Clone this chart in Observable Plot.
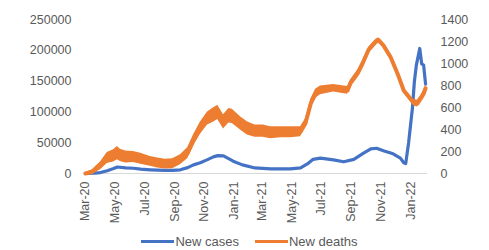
<!DOCTYPE html>
<html><head><meta charset="utf-8">
<script src="https://cdn.jsdelivr.net/npm/d3@7"></script>
<script src="https://cdn.jsdelivr.net/npm/@observablehq/plot@0.6"></script>
<style>
body{margin:0;background:#fff;font-family:"Liberation Sans",Arial,sans-serif;width:489px;height:250px;position:relative;overflow:hidden;}
#legend{position:absolute;left:0;top:234px;width:489px;display:flex;justify-content:center;align-items:center;font-size:13px;color:#595959;padding-left:10px;box-sizing:border-box;}
.item{display:flex;align-items:center;margin:0 8px;}
.sw{width:33px;height:3px;display:inline-block;margin-right:1px;}
</style></head><body><div id="chart"></div><div id="legend"></div>
<script>
const deathDates = ["2020-03-01","2020-03-15","2020-04-01","2020-04-15","2020-04-28","2020-05-06","2020-05-12","2020-05-23","2020-06-08","2020-06-23","2020-07-13","2020-07-28","2020-08-13","2020-08-28","2020-09-13","2020-09-28","2020-10-10","2020-10-24","2020-11-08","2020-11-20","2020-11-29","2020-12-11","2020-12-22","2020-12-29","2021-01-15","2021-01-29","2021-02-14","2021-03-03","2021-03-18","2021-04-08","2021-04-28","2021-05-19","2021-05-29","2021-06-09","2021-06-19","2021-06-29","2021-07-26","2021-08-24","2021-08-30","2021-09-14","2021-09-24","2021-10-06","2021-10-21","2021-10-27","2021-11-06","2021-11-21","2021-12-05","2021-12-18","2021-12-28","2022-01-07","2022-01-15","2022-01-22","2022-01-28","2022-02-01"];
const deathValues = [0,14,70,140,160,185,165,150,150,135,110,95,85,88,125,185,300,410,500,530,555,470,525,520,455,410,385,385,370,375,375,380,455,635,725,755,775,755,820,910,1000,1120,1195,1212,1165,1057,910,755,700,645,635,680,725,775];
// visible thickness of the jagged daily deaths band, in deaths
const deathBand = [20,40,70,100,110,120,110,110,100,100,90,90,90,90,90,100,100,110,120,130,130,130,130,130,120,120,110,110,110,100,100,90,80,80,80,80,70,70,60,60,50,50,45,45,45,45,45,50,50,60,60,60,60,60];

const caseDates = ["2020-03-01","2020-03-20","2020-04-01","2020-04-15","2020-04-28","2020-05-06","2020-05-23","2020-06-08","2020-06-23","2020-07-13","2020-07-28","2020-08-13","2020-08-28","2020-09-13","2020-09-28","2020-10-10","2020-10-24","2020-11-08","2020-11-20","2020-11-29","2020-12-11","2020-12-31","2021-01-19","2021-02-14","2021-03-18","2021-04-28","2021-05-19","2021-06-02","2021-06-14","2021-06-29","2021-07-26","2021-08-16","2021-09-06","2021-09-26","2021-10-11","2021-10-23","2021-11-06","2021-11-26","2021-12-11","2021-12-18","2021-12-22","2021-12-28","2022-01-05","2022-01-09","2022-01-13","2022-01-20","2022-01-24","2022-01-28","2022-02-01"];
const caseValues = [0,500,1500,4500,8000,10500,9000,8500,7000,6000,5500,5000,5000,6000,9500,14000,17500,22500,27000,29000,28500,20000,14000,9000,7500,7500,9000,15500,23000,25000,22000,19000,23000,33000,40000,41000,37000,32000,25000,17500,16000,50000,107000,150000,176000,203000,178000,176000,145000];

const leftTicks = [0,50000,100000,150000,200000,250000];
const rightTicks = [0,200,400,600,800,1000,1200,1400];
const xTickLabels = ["2020-03-01","2020-05-01","2020-07-01","2020-09-01","2020-11-01","2021-01-01","2021-03-01","2021-05-01","2021-07-01","2021-09-01","2021-11-01","2022-01-01"];
const seriesNames = ["New cases","New deaths"];
const colors = ["#4472C4","#ED7D31"];

const leftMax = 250000, rightMax = 1400;
const k = leftMax/rightMax;
const deaths = deathDates.map((d,i)=>({date:new Date(d+"T00:00:00Z"), value:deathValues[i], band:deathBand[i]}));
const cases = caseDates.map((d,i)=>({date:new Date(d+"T00:00:00Z"), value:caseValues[i]}));

const chart = Plot.plot({
  width: 489, height: 226,
  marginTop: 19, marginBottom: 53, marginLeft: 83, marginRight: 62,
  style: {fontFamily: "'Liberation Sans', Arial, sans-serif", fontSize: "12.5px", color: "#595959", background: "white"},
  x: {type: "utc", domain: [new Date("2020-02-26T00:00:00Z"), new Date("2022-02-05T00:00:00Z")]},
  y: {domain: [0, leftMax]},
  marks: [
    Plot.ruleY([0], {stroke: "#d9d9d9", strokeWidth: 1}),
    Plot.axisX({ticks: xTickLabels.map(d=>new Date(d+"T00:00:00Z")), tickFormat: d3.utcFormat("%b-%y"), tickRotate: -90, tickSize: 0, tickPadding: 8, label: null}),
    Plot.axisY({ticks: leftTicks, tickFormat: d=>String(d), tickSize: 0, tickPadding: 12, label: null}),
    Plot.axisY({anchor: "right", ticks: rightTicks.map(d=>d*k), tickFormat: v=>String(Math.round(v/k)), tickSize: 0, tickPadding: 13, label: null}),
    Plot.line(cases, {x: "date", y: "value", stroke: colors[0], strokeWidth: 3.2}),
    Plot.areaY(deaths, {x: "date", y1: d=>Math.max(0,(d.value - d.band/2))*k, y2: d=>(d.value + d.band/2)*k, fill: colors[1], curve: "linear"}),
    Plot.line(deaths, {x: "date", y: d=>d.value*k, stroke: colors[1], strokeWidth: 4})
  ]
});
document.getElementById("chart").appendChild(chart);

const legend = document.getElementById("legend");
seriesNames.forEach((n,i)=>{
  const it = document.createElement("span"); it.className="item";
  const sw = document.createElement("span"); sw.className="sw"; sw.style.background=colors[i];
  it.appendChild(sw); it.appendChild(document.createTextNode(n));
  legend.appendChild(it);
});
</script></body></html>
